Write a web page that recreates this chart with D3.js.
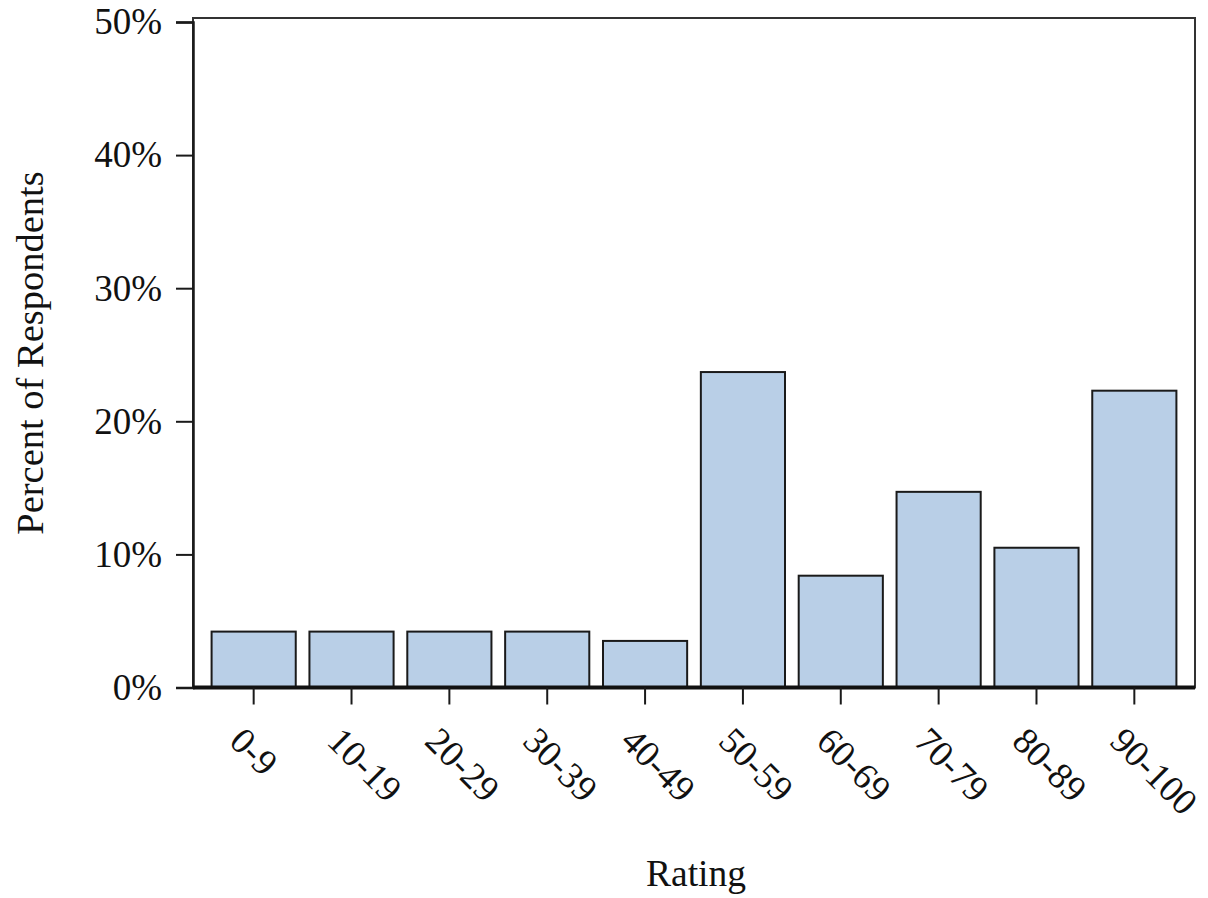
<!DOCTYPE html>
<html>
<head>
<meta charset="utf-8">
<script src="https://cdn.jsdelivr.net/npm/d3@7"></script>
<style>
  body { margin: 0; background: #fff; }
  svg { display: block; }
  text { font-family: "Liberation Serif", "Times New Roman", serif; fill: #111; }
</style>
</head>
<body>
<svg id="chart" width="1208" height="898"></svg>
<script>
const categories = ["0-9", "10-19", "20-29", "30-39", "40-49", "50-59", "60-69", "70-79", "80-89", "90-100"];
const values = [4.2, 4.2, 4.2, 4.2, 3.5, 23.7, 8.4, 14.7, 10.5, 22.3];
const yTicks = [0, 10, 20, 30, 40, 50];
const xTitle = "Rating";
const yTitle = "Percent of Respondents";

const svg = d3.select("#chart");
const mLeft = 193, mRight = 1195, mTop = 18, mBottom = 687.5;

const x = d3.scaleBand().domain(categories).range([mLeft, mRight])
  .paddingInner(0.14).paddingOuter(0.19);
const y = d3.scaleLinear().domain([0, 50]).range([mBottom, 22]);

// frame
svg.append("rect")
  .attr("x", mLeft).attr("y", mTop)
  .attr("width", mRight - mLeft).attr("height", mBottom - mTop)
  .attr("fill", "none").attr("stroke", "#333").attr("stroke-width", 2);

// bars
svg.append("g").selectAll("rect").data(values).join("rect")
  .attr("x", (d, i) => x(categories[i]))
  .attr("y", d => y(d))
  .attr("width", x.bandwidth())
  .attr("height", d => y(0) - y(d))
  .attr("fill", "#b9cfe7")
  .attr("stroke", "#1a1a1a")
  .attr("stroke-width", 2);

// y axis
const yAxis = d3.axisLeft(y).tickValues(yTicks).tickFormat(d => d + "%").tickSize(17).tickPadding(14);
const gy = svg.append("g").attr("transform", `translate(${mLeft},0)`).call(yAxis);
gy.select(".domain").attr("stroke", "#1a1a1a").attr("stroke-width", 2.5);
gy.selectAll(".tick line").attr("stroke", "#1a1a1a").attr("stroke-width", 2);
gy.selectAll(".tick text").attr("font-size", 37).attr("fill", "#111")
  .style("font-family", '"Liberation Serif", serif');

// x axis
const xAxis = d3.axisBottom(x).tickSize(17).tickSizeOuter(0).tickFormat("");
const gx = svg.append("g").attr("transform", `translate(0,${mBottom})`).call(xAxis);
gx.select(".domain").attr("stroke", "#111").attr("stroke-width", 4)
  .attr("d", `M${mLeft},0H${mRight}`);
gx.selectAll(".tick line").attr("stroke", "#1a1a1a").attr("stroke-width", 2);

// rotated x labels
svg.append("g").selectAll("text").data(categories).join("text")
  .attr("transform", d => `translate(${x(d) + x.bandwidth() / 2 - 26},743) rotate(45)`)
  .attr("text-anchor", "start")
  .attr("font-size", 37)
  .text(d => d);

// titles
svg.append("text")
  .attr("x", (mLeft + mRight) / 2 + 2).attr("y", 886)
  .attr("text-anchor", "middle").attr("font-size", 37.5)
  .text(xTitle);

svg.append("text")
  .attr("transform", `translate(43,353) rotate(-90)`)
  .attr("text-anchor", "middle").attr("font-size", 38.5)
  .text(yTitle);
</script>
</body>
</html>
